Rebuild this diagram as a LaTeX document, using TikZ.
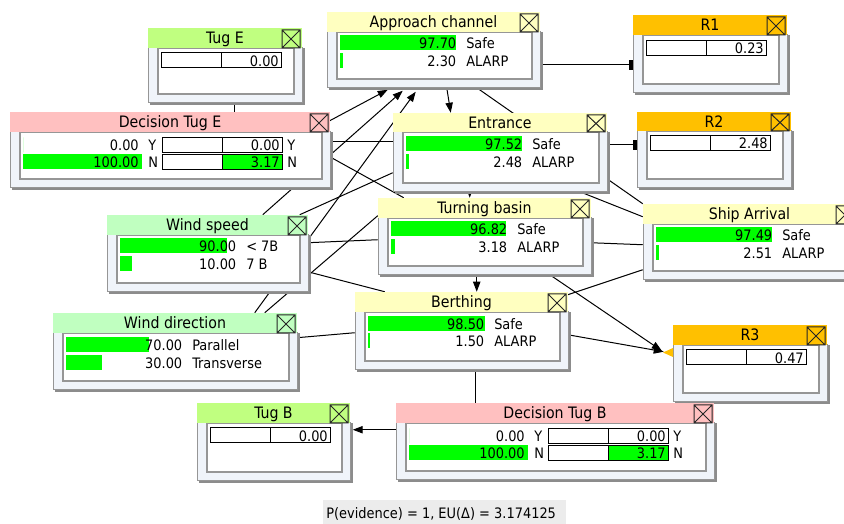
\documentclass[tikz,border=0pt]{standalone}
\usepackage{fontspec}
\setmainfont{DejaVu Sans Condensed}
\usetikzlibrary{arrows.meta,calc,fit}
\pgfdeclarelayer{background}
\pgfsetlayers{background,main}

\definecolor{chancetitle}{RGB}{255,255,192}
\definecolor{decisiontitle}{RGB}{255,192,192}
\definecolor{utiltitle}{RGB}{255,192,0}
\definecolor{tugtitle}{RGB}{192,255,128}
\definecolor{windtitle}{RGB}{192,255,192}
\definecolor{barlime}{RGB}{0,255,0}
\definecolor{bodybg}{RGB}{240,244,250}
\definecolor{framegray}{RGB}{150,150,150}
\definecolor{shadowgray}{RGB}{140,140,140}
\definecolor{footbg}{RGB}{236,236,236}

\tikzset{
  x=0.75pt, y=-0.75pt,
  titletext/.style={font=\fontsize{11.8}{13}\selectfont, inner sep=0pt, text height=8.6pt, text depth=0pt, anchor=center},
  valtext/.style={font=\fontsize{10.8}{12}\selectfont, inner sep=0pt, text height=7.9pt, text depth=0pt, anchor=east},
  labtext/.style={font=\fontsize{10.8}{12}\selectfont, inner sep=0pt, text height=7.9pt, text depth=0pt, anchor=west},
  link/.style={line width=0.75pt, black},
  arr/.style={link, -{Triangle[length=7.5pt,width=5.5pt]}},
  tbar/.style={link, -{Rectangle[length=2.5pt,width=7.5pt]}},
  closebox/.style={line width=0.75pt, black!85},
}

% frame of a network node: name, left, top, right, title bottom, bottom, title colour, title
\newcommand{\bnframe}[8]{%
  \fill[shadowgray] (#2+2,#6) rectangle (#4+2.5,#6+2.5);
  \fill[shadowgray] (#4,#5) rectangle (#4+2.5,#6+2.5);
  \filldraw[fill=bodybg, draw=framegray, line width=0.75pt] (#2,#5) rectangle (#4,#6);
  \filldraw[fill=white, draw=framegray, line width=1.2pt] (#2+10,#5) rectangle (#4-8,#6-9);
  \fill[#7] (#2,#3) rectangle (#4,#5);
  \node[titletext] (#1-title) at ({(#2+#4)/2},{(#3+#5)/2}) {#8};
  \draw[closebox] (#4-20,#3+2) rectangle (#4-2,#5)
                  (#4-20,#3+2) -- (#4-2,#5) (#4-20,#5) -- (#4-2,#3+2);
  \node[fit={(#2,#3)(#4,#6)}, inner sep=0pt] (#1) {};
}

% belief bar of a chance node: name, bar left, row centre, percent, value, state
\newcommand{\chancerow}[6]{%
  \fill[barlime] (#2,#3-7.5) rectangle ({#2+max(#4*1.19,2)},#3+7.5);
  \node[valtext] (#1) at (#2+116.5,#3) {#5};
  \node[labtext] (#1-state) at (#2+126,#3) {#6};
}

% expected utility bar: name, left, row centre, value, colour of right half
\newcommand{\utilbar}[5]{%
  \fill[#5] (#2+60,#3-7.5) rectangle (#2+120,#3+7.5);
  \draw[line width=0.75pt] (#2,#3-7.5) rectangle (#2+120,#3+7.5)
                           (#2+60,#3-7.5) -- (#2+60,#3+7.5);
  \node[valtext] (#1) at (#2+118,#3+0.5) {#4};
}

% decision row: name, node left, row centre, percent, value, state, utility, utility colour
\newcommand{\decrow}[8]{%
  \fill[barlime] (#2+13,#3-7.5) rectangle ({#2+13+#4*1.19},#3+7.5);
  \node[valtext] (#1) at (#2+129,#3) {#5};
  \node[labtext] (#1-state) at (#2+138,#3) {#6};
  \utilbar{#1-eu}{#2+152}{#3}{#7}{#8}
  \node[labtext] (#1-state2) at (#2+277,#3) {#6};
}

\begin{document}
\begin{tikzpicture}
\useasboundingbox (0,0) rectangle (844,524);
\clip (0,0) rectangle (844,524);

% ---------------- nodes ----------------
\bnframe{tuge}{148}{28}{302}{48}{103}{tugtitle}{Tug E}
\utilbar{tuge-u}{161}{60.5}{0.00}{white}

\bnframe{dte}{10}{112}{330}{132}{188}{decisiontitle}{Decision Tug E}
\decrow{dte-y}{10}{145}{0}{0.00}{Y}{0.00}{white}
\decrow{dte-n}{10}{162}{100}{100.00}{N}{3.17}{barlime}

\bnframe{ac}{327}{12}{540}{32}{88}{chancetitle}{Approach channel}
\chancerow{ac-s}{340}{43}{97.70}{97.70}{Safe}
\chancerow{ac-a}{340}{61}{2.30}{2.30}{ALARP}

\bnframe{en}{393}{113}{607}{132}{192}{chancetitle}{Entrance}
\chancerow{en-s}{406}{144}{97.52}{97.52}{Safe}
\chancerow{en-a}{406}{162}{2.48}{2.48}{ALARP}

\bnframe{r1}{633}{15}{787}{35}{93}{utiltitle}{R1}
\utilbar{r1-u}{646}{48}{0.23}{white}

\bnframe{r2}{637}{112}{791}{131}{188}{utiltitle}{R2}
\utilbar{r2-u}{650}{143}{2.48}{white}

\bnframe{sa}{643}{204}{856}{224}{280}{chancetitle}{Ship Arrival}
\chancerow{sa-s}{656}{235}{97.49}{97.49}{Safe}
\chancerow{sa-a}{656}{253}{2.51}{2.51}{ALARP}

\bnframe{ws}{107}{215}{308}{235}{292}{windtitle}{Wind speed}
\chancerow{ws-l}{120}{246}{90}{90.00}{< 7B}
\chancerow{ws-h}{120}{264}{10}{10.00}{7 B}

\bnframe{wd}{53}{313}{297}{333}{390}{windtitle}{Wind direction}
\chancerow{wd-p}{66}{345}{70}{70.00}{Parallel}
\chancerow{wd-t}{66}{363}{30}{30.00}{Transverse}

\bnframe{tb}{378}{198}{591}{218}{275}{chancetitle}{Turning basin}
\chancerow{tb-s}{391}{229}{96.82}{96.82}{Safe}
\chancerow{tb-a}{391}{247}{3.18}{3.18}{ALARP}

\bnframe{be}{355}{292}{568}{312}{370}{chancetitle}{Berthing}
\chancerow{be-s}{368}{324}{98.50}{98.50}{Safe}
\chancerow{be-a}{368}{341}{1.50}{1.50}{ALARP}

\bnframe{r3}{673}{325}{827}{345}{402}{utiltitle}{R3}
\utilbar{r3-u}{686}{357.5}{0.47}{white}

\bnframe{tugb}{197}{403}{350}{423}{481}{tugtitle}{Tug B}
\utilbar{tugb-u}{210}{435.5}{0.00}{white}

\bnframe{dtb}{396}{403}{714}{423}{480}{decisiontitle}{Decision Tug B}
\decrow{dtb-y}{396}{436}{0}{0.00}{Y}{0.00}{white}
\decrow{dtb-n}{396}{453}{100}{100.00}{N}{3.17}{barlime}

% small marker at the left of R3
\fill[utiltitle] (663,352.5) -- (673,348) -- (673,357) -- cycle;

% status line
\fill[footbg] (323,500) rectangle (566,526);
\node[labtext] (status) at (326,513) {P(evidence) = 1, EU(Δ) = 3.174125};

% ---------------- links (behind the nodes) ----------------
\begin{pgfonlayer}{background}
\fill[white] (0,0) rectangle (844,524);
\draw[arr]  ($(ac.north west)+(120,76)$)  -- ($(en.north west)+(58,0)$);
\draw[tbar] ($(ac.north west)+(213,53)$)  -- ($(r1.north west)+(0,50)$);
\draw[tbar] ($(en.north west)+(214,32)$)  -- ($(r2.north west)+(0,33)$);
\draw[arr]  ($(en.north west)+(77,72)$)   -- ($(tb.north west)+(92,0)$);
\draw[arr]  ($(tb.north west)+(99,72)$)   -- ($(be.north west)+(122,0)$);
\draw[link] ($(be.north west)+(121,78)$)  -- ($(dtb.north west)+(80,0)$);
\draw[arr]  ($(dtb.north west)+(0,27)$)  -- ($(tugb.north west)+(156,27)$);
\draw[link] ($(dte.north west)+(225,0)$)  -- ($(tuge.north west)+(87,75)$);
\draw[arr]  ($(be.north west)+(213,43)$)  -- ($(r3.north west)+(-9,27)$);
\draw[arr]  ($(tb.north west)+(172,77)$)  -- ($(r3.north west)+(-11,26)$);
\draw[arr]  ($(dte.north west)+(320,9)$)  -- ($(ac.north west)+(61,78)$);
\draw[arr]  ($(ws.north west)+(156,0)$)   -- ($(ac.north west)+(76,79)$);
\draw[arr]  ($(wd.north west)+(202,0)$)   -- ($(ac.north west)+(89,80)$);
\draw[link] ($(dte.north west)+(320,30)$) -- ($(en.north west)+(0,29)$);
\draw[link] ($(dte.north west)+(320,45)$) -- ($(tb.north west)+(26,0)$);
\draw[link] ($(ws.north west)+(193,0)$)   -- ($(en.north west)+(0,60)$);
\draw[link] ($(ws.north west)+(201,28)$)  -- ($(tb.north west)+(0,42)$);
\draw[link] ($(ws.north west)+(201,57)$)  -- ($(be.north west)+(30,0)$);
\draw[link] ($(wd.north west)+(212,0)$)   -- ($(tb.north west)+(0,18)$);
\draw[link] ($(wd.north west)+(244,25)$)  -- ($(be.north west)+(0,41)$);
\draw[link] ($(sa.north west)+(0,0)$)     -- ($(ac.north west)+(150,76)$);
\draw[link] ($(sa.north west)+(0,13)$)    -- ($(en.north west)+(182,77)$);
\draw[link] ($(sa.north west)+(0,41)$)    -- ($(tb.north west)+(213,45)$);
\draw[link] ($(sa.north west)+(0,66)$)    -- ($(be.north west)+(213,3)$);
\end{pgfonlayer}
\end{tikzpicture}
\end{document}
